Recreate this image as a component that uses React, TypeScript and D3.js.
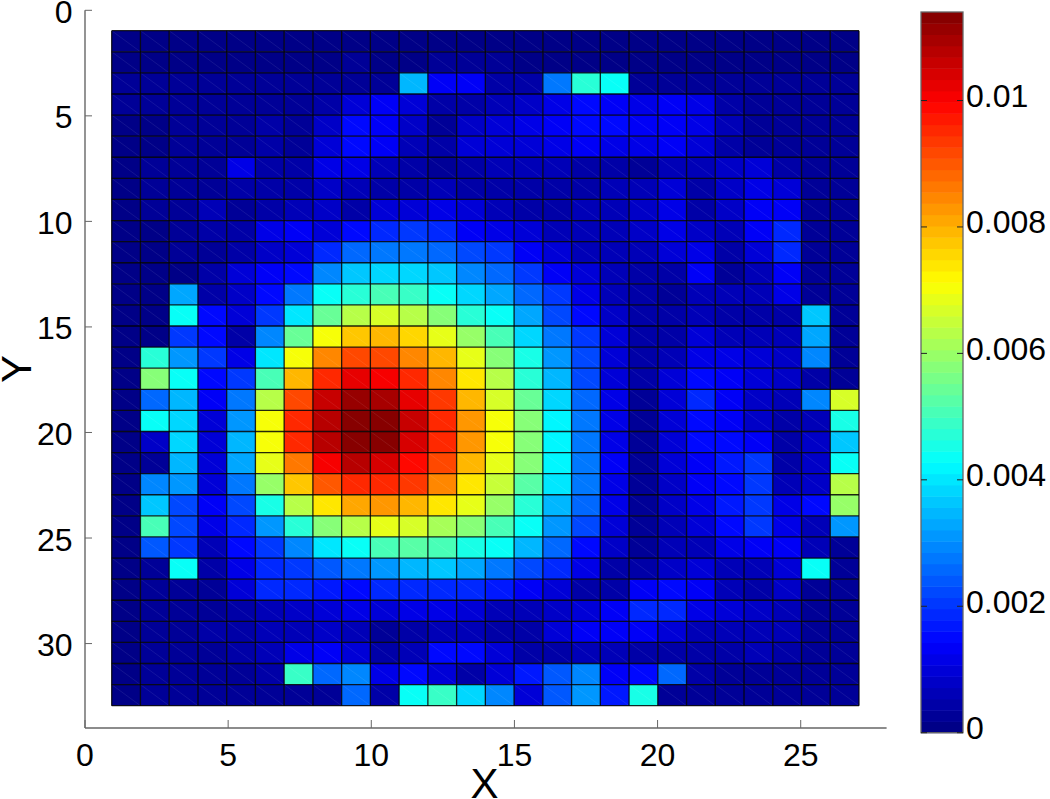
import * as d3 from 'd3';

// pcolor cell values in units of 1e-4, one list per row (Y = 1..32), left to right (X = 1..26)
const row01 = [1,1,1,1,1,1,1,1,1,1,1,1,1,1,1,1,1,1,1,1,1,1,1,1,1,1];
const row02 = [1,1,1,1,1,1,1,1,2,1,1,2,2,2,1,1,1,1,1,1,1,1,1,1,1,1];
const row03 = [2,2,2,2,2,2,2,2,3,3,34,14,14,5,5,27,48,43,3,3,3,3,3,3,3,3];
const row04 = [2,2,2,2,2,3,3,5,10,14,9,5,5,6,8,12,15,13,12,13,12,4,3,2,2,2];
const row05 = [1,1,2,2,2,4,3,8,15,13,8,3,8,9,11,13,15,16,14,13,11,7,3,3,2,2];
const row06 = [1,1,2,2,2,4,3,9,15,13,6,4,9,9,10,11,14,12,11,13,9,5,3,3,2,2];
const row07 = [1,2,2,2,11,5,4,11,11,6,5,3,5,6,7,6,5,5,2,7,6,8,9,4,2,2];
const row08 = [1,2,2,2,5,5,4,8,6,4,5,6,4,4,4,4,5,6,7,9,4,8,11,9,2,2];
const row09 = [1,2,2,6,3,5,7,8,5,9,10,11,9,7,5,4,6,7,8,12,5,8,13,14,3,2];
const row10 = [1,1,2,4,4,11,13,10,15,18,21,18,14,12,9,7,6,7,8,11,8,6,14,19,3,2];
const row11 = [1,1,2,3,5,8,9,18,26,27,27,26,23,20,14,10,7,6,7,9,12,5,10,19,3,2];
const row12 = [1,1,1,5,10,13,16,30,37,39,39,36,30,26,21,14,9,6,4,4,13,3,7,13,3,2];
const row13 = [1,1,33,4,8,16,27,43,47,50,49,44,39,33,25,20,12,7,4,3,6,6,6,12,3,2];
const row14 = [1,1,43,15,10,20,40,55,63,66,63,57,48,43,33,22,15,8,4,5,6,5,4,5,37,2];
const row15 = [1,1,21,15,5,30,54,70,78,79,75,68,60,51,39,28,20,9,5,5,9,7,7,6,33,2];
const row16 = [1,47,32,20,11,40,70,84,91,91,85,79,68,57,45,31,22,10,5,7,12,11,10,8,29,2];
const row17 = [1,57,43,15,20,50,80,96,103,101,96,85,74,64,48,34,22,10,4,9,15,13,9,8,5,2];
const row18 = [1,26,34,13,28,63,91,106,111,110,102,94,80,66,54,38,25,12,3,9,18,14,8,6,29,66];
const row19 = [1,43,38,10,32,70,95,108,114,113,106,96,83,71,57,41,27,11,3,9,15,14,8,4,6,45];
const row20 = [1,8,39,9,35,71,95,107,114,113,105,96,83,71,58,42,27,11,3,10,16,15,14,4,8,36];
const row21 = [1,3,34,9,33,68,86,100,107,104,99,91,80,69,57,42,27,13,3,9,14,17,21,4,8,43];
const row22 = [1,30,31,9,27,59,77,90,96,96,93,85,74,65,53,40,27,12,3,8,13,16,20,6,8,64];
const row23 = [1,37,23,13,23,45,63,74,81,83,80,74,68,60,48,35,25,12,3,8,12,17,21,11,16,59];
const row24 = [1,51,22,11,19,31,47,57,64,68,66,62,57,51,43,31,22,10,3,7,9,15,20,12,7,32];
const row25 = [1,24,21,7,15,21,29,40,43,50,52,50,46,43,35,26,15,8,3,6,7,11,13,13,6,2];
const row26 = [1,2,43,4,12,19,21,24,28,32,35,37,33,28,23,19,11,4,4,8,9,7,7,9,43,2];
const row27 = [1,2,2,3,10,18,18,17,15,18,19,19,18,17,14,9,5,4,13,16,13,7,4,8,3,2];
const row28 = [1,2,2,3,5,7,8,10,11,10,11,11,10,7,6,8,10,14,18,18,12,9,8,7,3,2];
const row29 = [1,2,2,4,5,6,7,8,6,3,5,7,7,4,5,9,13,14,13,10,7,7,6,6,3,2];
const row30 = [1,2,2,3,4,6,11,13,9,5,7,15,16,9,5,5,6,6,5,4,5,5,7,4,2,2];
const row31 = [1,2,2,2,3,4,49,26,29,12,15,9,5,9,17,24,30,14,16,25,4,3,2,2,2,2];
const row32 = [1,2,2,2,3,3,3,3,25,4,44,49,38,29,10,24,31,17,46,3,3,2,2,2,2,2];

const rows = [
  row01, row02, row03, row04, row05, row06, row07, row08,
  row09, row10, row11, row12, row13, row14, row15, row16,
  row17, row18, row19, row20, row21, row22, row23, row24,
  row25, row26, row27, row28, row29, row30, row31, row32,
];

const xTicks = [0, 5, 10, 15, 20, 25];
const yTicks = [0, 5, 10, 15, 20, 25, 30];
const colorTicks = [0, 0.002, 0.004, 0.006, 0.008, 0.01];
const colorMax = 0.0114;
const levels = d3.range(64);

const clamp = (v: number) => Math.max(0, Math.min(1, v));
// same ramp as matlab's jet(64)
const jet = (i: number) => {
  const t = (i + 0.5) / 64;
  const r = clamp(Math.min(4 * t - 1.5, -4 * t + 4.5));
  const g = clamp(Math.min(4 * t - 0.5, -4 * t + 3.5));
  const b = clamp(Math.min(4 * t + 0.5, -4 * t + 2.5));
  return d3.rgb(r * 255, g * 255, b * 255).formatHex();
};

const font = '"Liberation Sans", Arial, sans-serif';
const axisColor = '#666';

export default function App() {
  // axis and mesh were not exactly aligned in the source figure, so each gets a scale
  const xAxis = d3.scaleLinear().domain([0, 28]).range([85, 886.6]);
  const yAxis = d3.scaleLinear().domain([0, 34]).range([10.3, 728]);
  const xCell = d3.scaleLinear().domain([1, 27]).range([111.7, 859]);
  const yCell = d3.scaleLinear().domain([1, 33]).range([30.7, 705.7]);

  const color = d3.scaleQuantize<string>().domain([0, colorMax]).range(levels.map(jet));
  const barY = d3.scaleLinear().domain([0, colorMax]).range([732.7, 12]);
  const barX0 = 921;
  const barX1 = 963;

  return (
    <svg
      width={1050}
      height={799}
      style={{ position: 'absolute', left: 0, top: 0, background: '#fff' }}
      fontFamily={font}
    >
      {/* mesh */}
      <g>
        {rows.map((row, j) =>
          row.map((v, i) => {
            const x0 = xCell(i + 1);
            const x1 = xCell(i + 2);
            const y0 = yCell(j + 1);
            const y1 = yCell(j + 2);
            return (
              <g key={`${j}-${i}`}>
                <rect x={x0} y={y0} width={x1 - x0} height={y1 - y0} fill={color(v * 1e-4)} />
                <line x1={x0} y1={y0} x2={x1} y2={y1} stroke="#fff" strokeOpacity={0.08} />
              </g>
            );
          })
        )}
        {d3.range(1, 28).map((v) => (
          <line key={`gx${v}`} x1={xCell(v)} x2={xCell(v)} y1={yCell(1)} y2={yCell(33)} stroke="#000" strokeOpacity={0.85} strokeWidth={1.3} />
        ))}
        {d3.range(1, 34).map((v) => (
          <line key={`gy${v}`} x1={xCell(1)} x2={xCell(27)} y1={yCell(v)} y2={yCell(v)} stroke="#000" strokeOpacity={0.85} strokeWidth={1.3} />
        ))}
      </g>

      {/* axes */}
      <line x1={xAxis(0)} x2={xAxis(28)} y1={yAxis(34)} y2={yAxis(34)} stroke={axisColor} strokeWidth={1.4} />
      <line x1={xAxis(0)} x2={xAxis(0)} y1={yAxis(0)} y2={yAxis(34)} stroke={axisColor} strokeWidth={1.4} />
      {xTicks.map((t) => (
        <g key={`xt${t}`}>
          <line x1={xAxis(t)} x2={xAxis(t)} y1={yAxis(34)} y2={yAxis(34) - 8} stroke={axisColor} />
          <text x={xAxis(t)} y={765.5} textAnchor="middle" fontSize={32}>{t}</text>
        </g>
      ))}
      {yTicks.map((t) => (
        <g key={`yt${t}`}>
          <line x1={xAxis(0)} x2={xAxis(0) + 7} y1={yAxis(t)} y2={yAxis(t)} stroke={axisColor} />
          <text x={72.5} y={yAxis(t) + 12.5} textAnchor="end" fontSize={32}>{t}</text>
        </g>
      ))}
      <text x={484.5} y={798} textAnchor="middle" fontSize={42}>X</text>
      <text transform="translate(31,369) rotate(-90)" textAnchor="middle" fontSize={42}>Y</text>

      {/* colorbar */}
      <g>
        {levels.map((l) => {
          const y1 = barY((l * colorMax) / 64);
          const y0 = barY(((l + 1) * colorMax) / 64);
          return <rect key={l} x={barX0} y={y0} width={barX1 - barX0} height={y1 - y0 + 0.5} fill={jet(l)} />;
        })}
        <rect x={barX0} y={barY(colorMax)} width={barX1 - barX0} height={barY(0) - barY(colorMax)} fill="none" stroke={axisColor} strokeWidth={1.3} />
        {colorTicks.map((t) => (
          <g key={`ct${t}`}>
            <line x1={barX0} x2={barX0 + 6} y1={barY(t)} y2={barY(t)} stroke="#222" />
            <line x1={barX1 - 6} x2={barX1} y1={barY(t)} y2={barY(t)} stroke="#222" />
            <text x={966} y={barY(t) + 6.5} fontSize={32}>{t}</text>
          </g>
        ))}
      </g>
    </svg>
  );
}
